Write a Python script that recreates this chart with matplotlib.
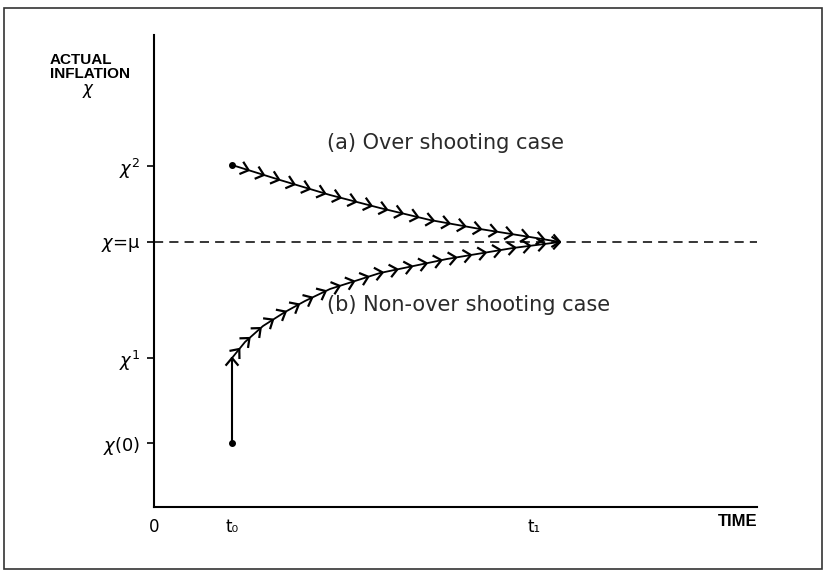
import numpy as np
import matplotlib.pyplot as plt
from matplotlib.patches import Rectangle
from matplotlib.collections import LineCollection

# axis values (1 unit = 1 pixel on both axes)
t0 = 78
t1 = 380
x0_val = 64      # chi(0)
x1_val = 149     # chi^1
mu_val = 265     # chi = mu
x2_val = 341     # chi^2

y_ticks = [x0_val, x1_val, mu_val, x2_val]
y_labels = [r"$\chi(0)$", r"$\chi^1$", r"$\chi$=$\mathrm{\mu}$", r"$\chi^2$"]

# (a) over shooting path
over_t = [78, 126, 176, 226, 276, 326, 376, 406]
over_x = [342, 327, 312, 299, 287, 278, 270, 265]

# (b) non-over shooting path
non_t = [78, 91, 109, 131, 151, 176, 226, 293, 359, 406]
non_x = [149, 165, 181, 195, 206, 218, 234, 248, 259, 265]


def chevrons(xs, ys, step=16.0, size=10.0, ang=40.0):
    xs = np.asarray(xs, float)
    ys = np.asarray(ys, float)
    seg = np.hypot(np.diff(xs), np.diff(ys))
    cum = np.concatenate([[0], np.cumsum(seg)])
    total = cum[-1]
    segs = []
    s = total
    a = np.radians(ang)
    while s > 6:
        i = min(np.searchsorted(cum, s) - 1, len(seg) - 1)
        i = max(i, 0)
        f = (s - cum[i]) / seg[i]
        px = xs[i] + f * (xs[i + 1] - xs[i])
        py = ys[i] + f * (ys[i + 1] - ys[i])
        dx = (xs[i + 1] - xs[i]) / seg[i]
        dy = (ys[i + 1] - ys[i]) / seg[i]
        for sgn in (1, -1):
            c, sn = np.cos(sgn * a), np.sin(sgn * a)
            bx = dx * c - dy * sn
            by = dx * sn + dy * c
            segs.append([(px - size * bx, py - size * by), (px, py)])
        s -= step
    return segs


fig = plt.figure(figsize=(8.25, 5.72), dpi=100)
fig.patches.append(Rectangle((4 / 825, 3 / 572), 818 / 825, 561 / 572,
                             transform=fig.transFigure, fill=False,
                             edgecolor="#333333", lw=1.2))

ax = fig.add_axes([154 / 825, 65 / 572, 603 / 825, 472 / 572])
ax.set_xlim(0, 603)
ax.set_ylim(0, 472)
for side in ("top", "right"):
    ax.spines[side].set_visible(False)
for side in ("left", "bottom"):
    ax.spines[side].set_linewidth(1.5)

ax.set_yticks(y_ticks)
ax.set_yticklabels(y_labels, fontsize=13)
ax.tick_params(axis="y", direction="out", length=5, width=1.2, pad=5)

ax.set_xticks([0, t0, t1])
ax.set_xticklabels(["0", "t\u2080", "t\u2081"], fontsize=12)
ax.tick_params(axis="x", length=0, pad=8)
ax.text(603, -15, "TIME", ha="right", va="center", fontsize=12,
        fontweight="bold", family="Liberation Sans")

# equilibrium line
ax.plot([0, 603], [mu_val, mu_val], ls=(0, (6, 4)), color="k", lw=1.1)

# paths
ax.plot(over_t, over_x, color="k", lw=1.3)
ax.plot(non_t, non_x, color="k", lw=1.3)
ax.plot([t0, t0], [x0_val, x1_val], color="k", lw=1.5)
ax.plot([over_t[0], t0], [over_x[0], x0_val], ls="none", marker="o",
        ms=4, color="k")

segs = chevrons(over_t, over_x) + chevrons(non_t, non_x, step=15)
segs += chevrons([t0, t0], [x1_val - 20, x1_val], step=100)
ax.add_collection(LineCollection(segs, colors="k", linewidths=1.6))

ax.text(173, 364, "(a) Over shooting case", fontsize=15, va="center",
        color="#2a2a2a")
ax.text(173, 202, "(b) Non-over shooting case", fontsize=15, va="center",
        color="#2a2a2a")

fig.text(50 / 825, 1 - 60 / 572, "ACTUAL", ha="left", va="center",
         fontsize=11, fontweight="bold", family="Liberation Sans")
fig.text(50 / 825, 1 - 74.5 / 572, "INFLATION", ha="left", va="center",
         fontsize=11, fontweight="bold", family="Liberation Sans")
fig.text(89 / 825, 1 - 91 / 572, r"$\chi$", ha="center", va="center",
         fontsize=12)

fig.savefig("out.png", dpi=100)
